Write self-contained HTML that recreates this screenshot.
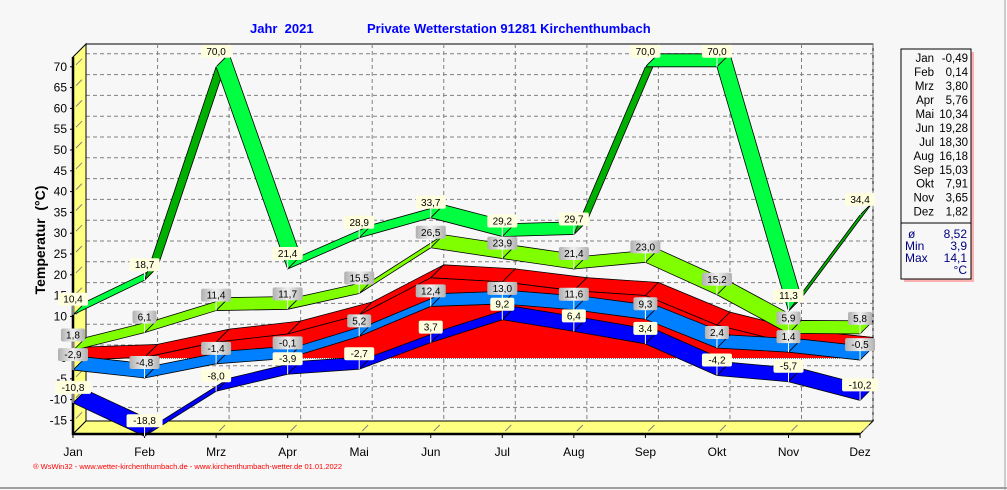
<!DOCTYPE html>
<html><head><meta charset="utf-8"><style>
body{margin:0;background:#f7f7f7;}
svg{display:block;font-family:"Liberation Sans",sans-serif;}
</style></head><body>
<svg id="s" width="1007" height="490" xmlns="http://www.w3.org/2000/svg"></svg>
<script>
const S=document.getElementById('s');
let h='';
const X0=73,DX=71.55,Y0=358,K=4.16,OX=13,OY=-13;
const xf=i=>X0+i*DX, yf=v=>Y0-v*K;
h+='<rect x="0" y="0" width="1007" height="490" fill="#f7f7f7"/>';
h+='<line x1="0" y1="488" x2="1007" y2="488" stroke="#a0a0a0" stroke-width="2"/>';
h+='<line x1="1005" y1="0" x2="1005" y2="490" stroke="#a0a0a0" stroke-width="1"/>';
h+='<rect x="86" y="44" width="787" height="377" fill="#f7f7f7" stroke="#000"/>';
for(let v=-15;v<=70;v+=5){const y=yf(v)+OY;h+=`<line x1="86" y1="${y}" x2="873" y2="${y}" stroke="#808080" stroke-dasharray="4,3"/>`;}
for(let i=1;i<12;i++){const x=xf(i)+OX;h+=`<line x1="${x}" y1="44" x2="${x}" y2="421" stroke="#808080" stroke-dasharray="4,3"/>`;}
h+='<polygon points="73,57 86,44 86,421 73,434" fill="#ffff80" stroke="#000"/>';
h+='<polygon points="73,434 86,421 873,421 860,434" fill="#ffff80" stroke="#000"/>';
for(let v=-15;v<=70;v+=5){const y=yf(v);h+=`<line x1="76" y1="${y-2}" x2="82" y2="${y-8}" stroke="#808080"/>`;}
for(let i=1;i<12;i++){const x=xf(i);h+=`<line x1="${x+3}" y1="431" x2="${x+9}" y2="425" stroke="#808080"/>`;}
h+=`<line x1="73" y1="${Y0}" x2="860" y2="${Y0}" stroke="#000" stroke-dasharray="1,1"/>`;
const avg=[-0.49,0.14,3.80,5.76,10.34,19.28,18.30,16.18,15.03,7.91,3.65,1.82];
for(let i=0;i<11;i++){const a=xf(i),b=xf(i+1),ya=yf(avg[i]),yb=yf(avg[i+1]);
h+=`<polygon points="${a},${ya} ${b},${yb} ${b+OX},${yb+OY} ${a+OX},${ya+OY}" fill="#ff0000" stroke="#000" stroke-width="0.8"/>`;}
let p=`${xf(0)},${Y0} `;avg.forEach((v,i)=>p+=`${xf(i)},${yf(v)} `);p+=`${xf(11)},${Y0}`;
h+=`<polygon points="${p}" fill="#ff0000"/>`;
h+=`<polyline points="${avg.map((v,i)=>xf(i)+','+yf(v)).join(' ')}" fill="none" stroke="#000" stroke-width="0.8"/>`;
h+=`<polygon points="${xf(11)},${yf(avg[11])} ${xf(11)+OX},${yf(avg[11])+OY} ${xf(11)+OX},${Y0+OY} ${xf(11)},${Y0}" fill="#ff0000" stroke="#000" stroke-width="0.8"/>`;
function rib(vals,col,dark){for(let i=0;i<11;i++){const a=xf(i),b=xf(i+1),ya=yf(vals[i]),yb=yf(vals[i+1]);
const steep=(yb-ya)/(b-a)<-1;
h+=`<polygon points="${a},${ya} ${b},${yb} ${b+OX},${yb+OY} ${a+OX},${ya+OY}" fill="${steep?dark:col}" stroke="#000" stroke-width="0.8"/>`;}}
const mmin=[-2.9,-4.8,-1.4,-0.1,5.2,12.4,13.0,11.6,9.3,2.4,1.4,-0.5];
const amin=[-10.8,-18.8,-8.0,-3.9,-2.7,3.7,9.2,6.4,3.4,-4.2,-5.7,-10.2];
const mmax=[1.8,6.1,11.4,11.7,15.5,26.5,23.9,21.4,23.0,15.2,5.9,5.8];
const amax=[10.4,18.7,70,21.4,28.9,33.7,29.2,29.7,70,70,11.3,34.4];
rib(mmin,'#0080ff','#0060c0');rib(amin,'#0000ff','#0000b0');rib(mmax,'#80ff00','#60c000');rib(amax,'#00ff40','#00b000');
h+='<line x1="73" y1="57" x2="73" y2="435" stroke="#000" stroke-width="2.5"/>';
h+='<line x1="72" y1="434" x2="860" y2="434" stroke="#000" stroke-width="2.5"/>';
for(let v=-15;v<=70;v+=5){const y=yf(v);h+=`<line x1="70" y1="${y}" x2="73" y2="${y}" stroke="#000"/><text x="67" y="${y+4}" font-size="12" text-anchor="end">${v}</text>`;}
const M=['Jan','Feb','Mrz','Apr','Mai','Jun','Jul','Aug','Sep','Okt','Nov','Dez'];
M.forEach((m,i)=>{const x=xf(i);h+=`<line x1="${x}" y1="434" x2="${x}" y2="438" stroke="#000"/><text x="${x}" y="456" font-size="12" text-anchor="middle">${m}</text>`;});
h+='<defs><linearGradient id="g" x1="0" x2="1"><stop offset="0" stop-color="#b0b0b0"/><stop offset="0.5" stop-color="#f0f0f0"/><stop offset="1" stop-color="#b0b0b0"/></linearGradient></defs>';
function lab(vals,gray){vals.forEach((v,i)=>{const x=xf(i),y=yf(v);const t=v.toFixed(1).replace('.',',');const w=t.length*6+6;
h+=`<line x1="${x}" y1="${y-9}" x2="${x}" y2="${y}" stroke="#fff"/>`;
h+=`<rect x="${x-w/2}" y="${y-22}" width="${w}" height="13" rx="2" fill="${gray?'url(#g)':'#ffffe0'}"/>`;
h+=`<text x="${x}" y="${y-12}" font-size="10" text-anchor="middle">${t}</text>`;});}
lab(amin,false);lab(mmin,true);lab(mmax,true);lab(amax,false);
h+='<text x="250" y="33" font-size="13" font-weight="bold" fill="#0000ff" xml:space="preserve">Jahr  2021</text>';
h+='<text x="367" y="33" font-size="13" font-weight="bold" fill="#0000ff">Private Wetterstation 91281 Kirchenthumbach</text>';
h+='<text transform="translate(45,240) rotate(-90)" font-size="14" font-weight="bold" text-anchor="middle" xml:space="preserve">Temperatur  (°C)</text>';
h+='<text x="33" y="469" font-size="7.5" fill="#ff0000">® WsWin32 - www.wetter-kirchenthumbach.de - www.kirchenthumbach-wetter.de  01.01.2022</text>';
h+='<rect x="904" y="52" width="70" height="230" fill="#ff8080" opacity="0.6"/>';
h+='<rect x="901" y="49" width="70" height="230" fill="#f7f7f7" stroke="#000"/>';
h+='<line x1="901" y1="223" x2="971" y2="223" stroke="#000"/>';
M.forEach((m,i)=>{const y=62+i*13.97;h+=`<text x="934" y="${y}" font-size="11.5" text-anchor="end">${m}</text><text x="968" y="${y}" font-size="11.5" text-anchor="end">${avg[i].toFixed(2).replace('.',',')}</text>`;});
[['ø','8,52',238],['Min','3,9',250],['Max','14,1',262],['','°C',274]].forEach(r=>{h+=`<text x="${r[0]=='ø'?908:905}" y="${r[2]}" font-size="12" fill="#000080">${r[0]}</text><text x="967" y="${r[2]}" font-size="12" fill="#000080" text-anchor="end">${r[1]}</text>`;});
S.innerHTML=h;
</script>
</body></html>
